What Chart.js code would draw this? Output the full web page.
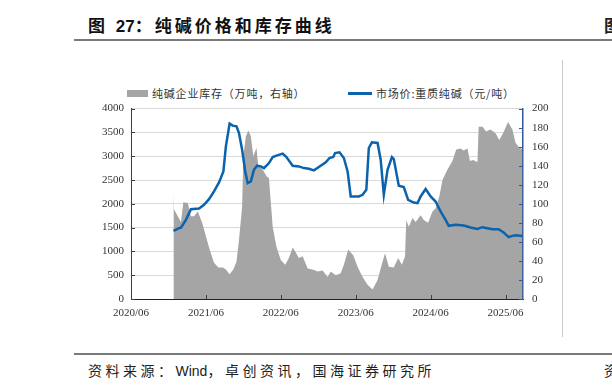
<!DOCTYPE html>
<html>
<head>
<meta charset="utf-8">
<script src="https://cdn.jsdelivr.net/npm/chart.js@4"></script>
<style>
  html, body { margin: 0; padding: 0; background: #fff; }
  body { width: 612px; height: 389px; position: relative; overflow: hidden; }
  .title { position: absolute; left: 88px; top: 12px; font: bold 17px "Liberation Sans", "Noto Sans CJK SC"; letter-spacing: 3px; color: #111; white-space: nowrap; }
  .rule { position: absolute; left: 74px; width: 538px; height: 2px; background: #7a7a7a; }
  .vline { position: absolute; left: 562px; top: 60px; width: 1px; height: 277px; background: #c8c8c8; }
  .source { position: absolute; left: 88px; top: 360px; font: 14px "Liberation Sans", "Noto Sans CJK SC"; letter-spacing: 3.5px; color: #222; white-space: nowrap; }
  .tight { letter-spacing: 0; }
  .cut { position: absolute; left: 604px; white-space: nowrap; color: #222; }
  .legend { position: absolute; top: 83px; font: 11px "Noto Sans CJK SC"; letter-spacing: 0.8px; color: #333; white-space: nowrap; }
  .legend span { display: inline-block; vertical-align: middle; }
  #wrap { position: absolute; left: 74px; top: 93px; width: 488px; height: 239px; }
</style>
</head>
<body>
<div class="title">图 <span class="tight">27</span>：纯碱价格和库存曲线</div>
<div class="cut" style="top:12px;font:bold 17px 'Noto Sans CJK SC'">图</div>
<div class="rule" style="top:39px"></div>
<div class="vline"></div>
<div class="legend" style="left:127px"><span style="width:21px;height:7px;background:#a5a5a5;margin-right:4px"></span><span>纯碱企业库存（万吨，右轴）</span></div>
<div class="legend" style="left:348px"><span style="width:24px;height:3px;background:#0b62ad;margin-right:4px"></span><span>市场价:重质纯碱（元/吨）</span></div>
<div id="wrap"><canvas id="chart"></canvas></div>
<div class="rule" style="top:353px"></div>
<div class="source">资料来源：<span class="tight">Wind</span>，卓创资讯，国海证券研究所</div>
<div class="cut" style="top:360px;font:14px 'Noto Sans CJK SC'">资</div>
<script>
// x values are months counted from 2020/06
var tickMonths = [0, 12, 24, 36, 48, 60];
var tickLabels = ['2020/06', '2021/06', '2022/06', '2023/06', '2024/06', '2025/06'];

// 市场价:重质纯碱 (元/吨), left axis
var priceMonth = [6.8, 7.7, 8.0, 8.8, 9.6, 10.9, 11.7, 12.5, 13.3, 14.1, 14.8, 15.2, 15.8, 16.3, 16.9, 17.3, 17.8, 18.3, 18.7, 19.2,
  19.7, 20.2, 20.8, 21.3, 22.1, 22.7, 23.3, 24.3, 24.9, 25.9, 26.9, 27.7, 28.5, 29.3, 30.1, 31.2, 31.8, 32.4, 32.7, 33.4,
  34.1, 34.7, 35.2, 36.5, 37.1, 37.7, 38.1, 38.6, 39.5, 40.0, 40.5, 41.1, 41.8, 42.1, 42.9, 43.7, 44.4, 45.3, 45.9, 46.4,
  47.2, 48.0, 48.8, 49.6, 50.4, 50.9, 52.0, 53.3, 54.4, 55.5, 56.3, 57.1, 57.9, 58.9, 59.7, 60.5, 61.1, 61.6, 62.7];
var priceValue = [1431, 1488, 1500, 1663, 1888, 1900, 1979, 2098, 2259, 2449, 2680, 3206, 3684, 3642, 3627, 3488, 3137, 2680, 2435, 2470,
  2716, 2800, 2786, 2750, 2856, 2982, 3011, 3053, 2982, 2800, 2786, 2750, 2737, 2702, 2772, 2870, 2962, 2982, 3067, 3081,
  2962, 2680, 2154, 2154, 2189, 2295, 3172, 3292, 3278, 2926, 2189, 2716, 2982, 2940, 2379, 2351, 2084, 2027, 2013, 2154,
  2309, 2154, 2048, 1838, 1663, 1537, 1558, 1543, 1501, 1473, 1509, 1488, 1467, 1467, 1396, 1299, 1326, 1341, 1326];

// 纯碱企业库存 (万吨), right axis
var stockMonth = [6.8, 6.9, 7.5, 8.0, 8.4, 8.7, 9.1, 9.6, 10.1, 10.7, 11.4, 12.0, 12.6, 13.3, 14.0, 14.7, 15.2, 15.8, 16.4, 16.9,
  17.3, 17.8, 18.0, 18.4, 18.8, 19.2, 19.6, 20.1, 20.4, 20.8, 21.3, 21.7, 22.1, 22.7, 23.3, 24.0, 24.7, 25.3, 25.9, 26.3,
  26.9, 27.5, 28.3, 29.1, 29.9, 30.7, 31.5, 32.0, 32.8, 33.6, 34.1, 34.8, 35.6, 36.3, 37.1, 37.9, 38.7, 39.5, 40.3, 40.7,
  41.3, 42.1, 42.8, 43.4, 43.9, 44.1, 44.5, 45.1, 45.6, 46.4, 46.9, 47.6, 48.3, 48.8, 49.4, 49.9, 50.7, 51.5, 52.1, 52.8,
  53.3, 53.9, 54.3, 54.8, 55.5, 55.7, 56.3, 56.9, 57.6, 58.4, 59.0, 59.6, 60.4, 61.1, 61.6, 62.1, 62.7];
var stockValue = [111, 94, 87, 81, 102, 101, 101, 87, 87, 92, 80, 66, 52, 38, 33, 33, 31, 26, 31, 39,
  62, 97, 150, 171, 177, 171, 150, 159, 139, 138, 134, 129, 127, 76, 55, 41, 36, 43, 54, 50,
  43, 45, 32, 31, 29, 30, 23, 29, 25, 27, 36, 52, 46, 34, 23, 15, 10, 20, 39, 48,
  34, 33, 43, 36, 45, 83, 76, 85, 81, 88, 83, 80, 92, 95, 108, 125, 136, 145, 157, 158,
  156, 158, 145, 146, 144, 181, 181, 176, 178, 174, 167, 174, 186, 178, 164, 160, 157];

function pairs(xs, ys) {
  return xs.map(function(x, i) { return { x: x, y: ys[i] }; });
}

var tickFont = { family: 'Liberation Serif', size: 11 };

// small tick marks drawn inside the plot, like the original
var innerTicks = {
  id: 'innerTicks',
  afterDraw: function(chart) {
    var ctx = chart.ctx, a = chart.chartArea, s = chart.scales;
    ctx.save();
    ctx.lineWidth = 1;
    ctx.strokeStyle = '#404040';
    s.y.ticks.forEach(function(t) {
      var py = Math.round(s.y.getPixelForValue(t.value)) + 0.5;
      ctx.beginPath(); ctx.moveTo(a.left, py); ctx.lineTo(a.left + 4, py); ctx.stroke();
    });
    s.x.ticks.forEach(function(t) {
      var px = Math.round(s.x.getPixelForValue(t.value)) + 0.5;
      ctx.beginPath(); ctx.moveTo(px, a.bottom); ctx.lineTo(px, a.bottom - 4); ctx.stroke();
    });
    ctx.strokeStyle = '#2f5a9a';
    s.y1.ticks.forEach(function(t) {
      var py = Math.round(s.y1.getPixelForValue(t.value)) + 0.5;
      ctx.beginPath(); ctx.moveTo(a.right, py); ctx.lineTo(a.right - 4, py); ctx.stroke();
    });
    ctx.restore();
  }
};

new Chart(document.getElementById('chart'), {
  type: 'line',
  data: {
    datasets: [{
      label: '市场价:重质纯碱（元/吨）',
      data: pairs(priceMonth, priceValue),
      yAxisID: 'y',
      borderColor: '#0b62ad',
      borderWidth: 2.5,
      pointRadius: 0,
      fill: false,
      order: 0
    }, {
      label: '纯碱企业库存（万吨，右轴）',
      data: pairs(stockMonth, stockValue),
      yAxisID: 'y1',
      borderWidth: 0,
      borderColor: 'rgba(0,0,0,0)',
      backgroundColor: '#a5a5a5',
      pointRadius: 0,
      fill: 'origin',
      order: 1
    }]
  },
  options: {
    responsive: true,
    maintainAspectRatio: false,
    animation: false,
    layout: { padding: { top: 2 } },
    plugins: { legend: { display: false }, tooltip: { enabled: false } },
    scales: {
      x: {
        type: 'linear',
        min: 0,
        max: 62.8,
        afterBuildTicks: function(scale) {
          scale.ticks = tickMonths.map(function(m) { return { value: m }; });
        },
        afterFit: function(scale) { scale.height = 33; },
        ticks: {
          autoSkip: false,
          maxRotation: 0,
          padding: 8,
          color: '#333',
          font: tickFont,
          callback: function(v) { return tickLabels[tickMonths.indexOf(v)]; }
        },
        grid: { drawOnChartArea: false, drawTicks: false },
        border: { color: '#222', width: 1 }
      },
      y: {
        position: 'left',
        min: 0,
        max: 4000,
        ticks: { stepSize: 500, padding: 7, color: '#333', font: tickFont,
          callback: function(v) { return String(v); } },
        afterFit: function(scale) { scale.width = 57; },
        grid: { color: '#d9d9d9', drawTicks: false },
        border: { color: '#404040', width: 1 }
      },
      y1: {
        position: 'right',
        min: 0,
        max: 200,
        ticks: { stepSize: 20, padding: 9, color: '#333', font: tickFont },
        afterFit: function(scale) { scale.width = 39; },
        grid: { drawOnChartArea: false, drawTicks: false },
        border: { color: '#2f5a9a', width: 1.5 }
      }
    }
  },
  plugins: [innerTicks]
});
</script>
</body>
</html>
